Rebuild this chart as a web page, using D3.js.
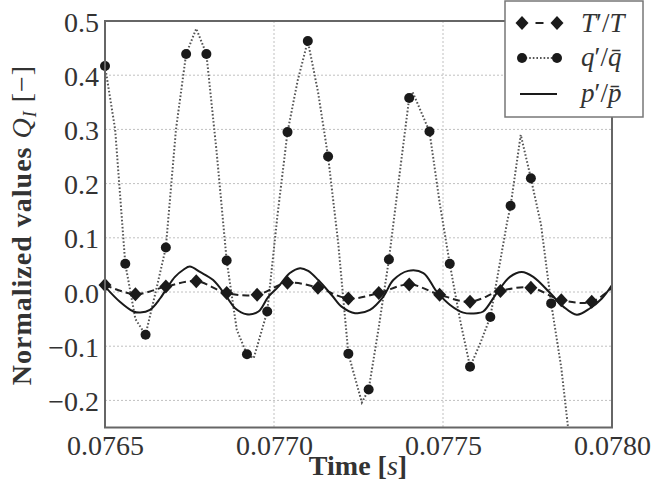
<!DOCTYPE html>
<html>
<head>
<meta charset="utf-8">
<script src="https://cdn.jsdelivr.net/npm/d3@7"></script>
<style>
body{margin:0;background:#fff;}
svg{display:block;}
</style>
</head>
<body>
<div class="chart"></div>
<script>
// T'/T : diamond samples (every 0.00009 s)
var tTime=[0.07650,0.07659,0.07668,0.07677,0.07686,0.07695,0.07704,0.07713,0.07722,
	0.07731,0.07740,0.07749,0.07758,0.07767,0.07776,0.07785,0.07794];
var tValue=[0.013,-0.004,0.010,0.020,-0.002,-0.005,0.017,0.008,-0.012,
	-0.002,0.014,-0.005,-0.018,0.002,0.008,-0.015,-0.018];
var tEdgeTime=0.07800, tEdgeValue=0.008;

// q'/q : circle markers (every 0.00006 s)
var qMarkTime=[0.07650,0.07656,0.07662,0.07668,0.07674,0.07680,0.07686,0.07692,0.07698,
	0.07704,0.07710,0.07716,0.07722,0.07728,0.07734,0.07740,0.07746,0.07752,
	0.07758,0.07764,0.07770,0.07776,0.07782];
var qMarkValue=[0.417,0.052,-0.079,0.082,0.439,0.439,0.058,-0.115,-0.036,
	0.295,0.463,0.250,-0.114,-0.180,0.060,0.358,0.296,0.052,
	-0.138,-0.046,0.159,0.210,-0.021];
// q'/q : dotted line samples
var qLineTime=[0.07650,0.07653,0.07656,0.07659,0.07662,0.07665,0.07668,0.07671,0.07674,
	0.07677,0.07680,0.07683,0.07686,0.07689,0.07692,0.07694,0.07698,0.07701,
	0.07704,0.07707,0.07710,0.07713,0.07716,0.07719,0.07722,0.07726,0.07728,
	0.07731,0.07734,0.07737,0.07740,0.07741,0.07743,0.07746,0.07749,0.07752,
	0.07755,0.07758,0.07761,0.07764,0.07769,0.07770,0.07773,0.07776,0.07779,
	0.07782,0.07785,0.07787,0.07790];
var qLineValue=[0.417,0.300,0.052,-0.050,-0.079,0.000,0.082,0.300,0.439,
	0.486,0.439,0.260,0.058,-0.070,-0.115,-0.122,-0.036,0.140,
	0.295,0.390,0.463,0.370,0.250,0.090,-0.114,-0.204,-0.180,
	-0.065,0.060,0.210,0.358,0.369,0.340,0.296,0.165,0.052,
	-0.050,-0.138,-0.095,-0.046,0.130,0.159,0.290,0.210,0.124,
	-0.021,-0.140,-0.250,-0.330];

// p'/p : solid line
var pTime=[0.076500,0.076544,0.076584,0.076604,0.076633,0.076663,0.076683,0.076707,0.076732,
	0.076751,0.076781,0.076820,0.076860,0.076885,0.076919,0.076954,0.076983,0.077013,
	0.077047,0.077077,0.077101,0.077131,0.077171,0.077200,0.077240,0.077284,0.077323,
	0.077353,0.077397,0.077442,0.077481,0.077521,0.077560,0.077600,0.077619,0.077659,
	0.077698,0.077733,0.077767,0.077817,0.077856,0.077896,0.077935,0.077970,0.078000];
var pValue=[0.010,-0.018,-0.036,-0.038,-0.033,-0.012,0.007,0.028,0.041,
	0.047,0.037,0.022,-0.009,-0.030,-0.041,-0.036,-0.009,0.010,
	0.035,0.044,0.039,0.022,-0.006,-0.027,-0.039,-0.033,-0.009,
	0.022,0.039,0.035,0.001,-0.024,-0.038,-0.039,-0.036,-0.002,
	0.028,0.037,0.028,-0.002,-0.027,-0.042,-0.030,-0.012,0.013];

var xTicks=[0.0765,0.0770,0.0775,0.0780];
var yTicks=[-0.2,-0.1,0.0,0.1,0.2,0.3,0.4,0.5];

var width=653, height=487;
var margin={left:105,top:21,right:41,bottom:59.5};
var iw=width-margin.left-margin.right, ih=height-margin.top-margin.bottom;
var serif='"Liberation Serif","DejaVu Serif",serif';

var svg=d3.select('div.chart').append('svg')
	.attr('width',width).attr('height',height);

var x=d3.scaleLinear().domain([0.0765,0.0780]).range([0,iw]);
var y=d3.scaleLinear().domain([-0.25,0.5]).range([ih,0]);

var g=svg.append('g').attr('transform','translate('+margin.left+','+margin.top+')');

svg.append('defs').append('clipPath').attr('id','clip')
	.append('rect').attr('width',iw).attr('height',ih);

//网格
g.append('g').selectAll('line.gx').data(xTicks).enter().append('line')
	.attr('x1',d=>x(d)).attr('x2',d=>x(d)).attr('y1',0).attr('y2',ih)
	.attr('stroke','#c0c0c0').attr('stroke-width',1).attr('stroke-dasharray','2,2');
g.append('g').selectAll('line.gy').data(yTicks).enter().append('line')
	.attr('y1',d=>y(d)).attr('y2',d=>y(d)).attr('x1',0).attr('x2',iw)
	.attr('stroke','#c0c0c0').attr('stroke-width',1).attr('stroke-dasharray','2,2');

var xAxis=g.append('g').attr('transform','translate(0,'+ih+')')
	.call(d3.axisBottom(x).tickValues(xTicks).tickFormat(d3.format('.4f')).tickSize(0).tickPadding(6));
var yAxis=g.append('g')
	.call(d3.axisLeft(y).tickValues(yTicks).tickFormat(d3.format('.1f')).tickSize(0).tickPadding(6));
[xAxis,yAxis].forEach(function(a){
	a.select('.domain').remove();
	a.selectAll('text').style('font-family',serif).style('font-size','28px').attr('fill','#333');
});
xAxis.selectAll('text').attr('dy','0.75em');
yAxis.selectAll('text').attr('dy','0.36em');

var plot=g.append('g').attr('clip-path','url(#clip)');

var qLine=d3.line().x((d,i)=>x(qLineTime[i])).y(d=>y(d));
plot.append('path').datum(qLineValue)
	.attr('d',qLine).attr('fill','none')
	.attr('stroke','#555').attr('stroke-width',2).attr('stroke-dasharray','1.6,2');

var tData=tValue.concat([tEdgeValue]), tT=tTime.concat([tEdgeTime]);
var tLine=d3.line().x((d,i)=>x(tT[i])).y(d=>y(d)).curve(d3.curveCatmullRom);
plot.append('path').datum(tData)
	.attr('d',tLine).attr('fill','none')
	.attr('stroke','#222').attr('stroke-width',2).attr('stroke-dasharray','7,4');

var pLine=d3.line().x((d,i)=>x(pTime[i])).y(d=>y(d)).curve(d3.curveCatmullRom);
plot.append('path').datum(pValue)
	.attr('d',pLine).attr('fill','none')
	.attr('stroke','#1a1a1a').attr('stroke-width',2);

var diamond='M0,-7L6.5,0L0,7L-6.5,0Z';
g.append('g').selectAll('path').data(tValue).enter().append('path')
	.attr('d',diamond)
	.attr('transform',(d,i)=>'translate('+x(tTime[i])+','+y(d)+')')
	.attr('fill','#1a1a1a');
g.append('g').selectAll('circle').data(qMarkValue).enter().append('circle')
	.attr('cx',(d,i)=>x(qMarkTime[i])).attr('cy',d=>y(d)).attr('r',5)
	.attr('fill','#1a1a1a');

// frame
g.append('rect').attr('width',iw).attr('height',ih)
	.attr('fill','none').attr('stroke','#666').attr('stroke-width',2);

// axis labels
svg.append('text')
	.attr('x',358).attr('y',475)
	.attr('text-anchor','middle')
	.style('font-family',serif).style('font-size','28px').style('font-weight','bold').attr('fill','#333')
	.html('Time [<tspan font-style="italic" font-weight="normal">s</tspan>]');

var yl=svg.append('text')
	.attr('transform','translate(31,225) rotate(-90)')
	.attr('text-anchor','middle')
	.style('font-family',serif).style('font-size','28px').style('letter-spacing','1px').attr('fill','#333');
yl.append('tspan').style('font-weight','bold').text('Normalized values ');
yl.append('tspan').style('font-style','italic').text('Q');
yl.append('tspan').style('font-style','italic').style('font-size','18px').attr('dy',5).text('I');
yl.append('tspan').attr('dy',-5).text(' [\u2212]');

//图例
var lg=svg.append('g');
lg.append('rect').attr('x',505).attr('y',1).attr('width',138).attr('height',116)
	.attr('fill','#fff').attr('stroke','#777').attr('stroke-width',1.5);
var lx1=522, lx2=557;
lg.append('line').attr('x1',lx1).attr('x2',lx2).attr('y1',23).attr('y2',23)
	.attr('stroke','#222').attr('stroke-width',2).attr('stroke-dasharray','0,13.5,8,20');
[lx1,lx2].forEach(function(v){
	lg.append('path').attr('d',diamond).attr('transform','translate('+v+',23)').attr('fill','#1a1a1a');
});
lg.append('line').attr('x1',lx1).attr('x2',lx2).attr('y1',58).attr('y2',58)
	.attr('stroke','#555').attr('stroke-width',2).attr('stroke-dasharray','1.6,2');
[lx1,lx2].forEach(function(v){
	lg.append('circle').attr('cx',v).attr('cy',58).attr('r',5).attr('fill','#1a1a1a');
});
lg.append('line').attr('x1',520).attr('x2',557).attr('y1',94).attr('y2',94)
	.attr('stroke','#1a1a1a').attr('stroke-width',2);

var labels=[['T','\u2032/','T',32],['q','\u2032/','q\u0304',66],['p','\u2032/','p\u0304',102]];
labels.forEach(function(l){
	var t=lg.append('text').attr('x',581).attr('y',l[3])
		.style('font-family',serif).style('font-size','27px').attr('fill','#333');
	t.append('tspan').style('font-style','italic').text(l[0]);
	t.append('tspan').text(l[1]);
	t.append('tspan').style('font-style','italic').text(l[2]);
});
</script>
</body>
</html>
